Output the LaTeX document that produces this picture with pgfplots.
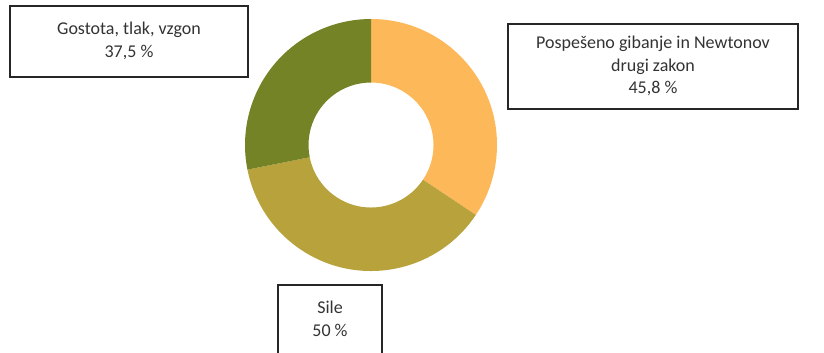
\documentclass[border=0pt]{standalone}
\usepackage{pgfplots}
\pgfplotsset{compat=1.18}
\usepackage{pgfplotstable}
\usepackage{fontspec}
\setmainfont{Carlito}
\definecolor{cA}{HTML}{FDB85A}
\definecolor{cB}{HTML}{B8A23C}
\definecolor{cC}{HTML}{738325}
\definecolor{txt}{HTML}{333333}
\pgfplotstableread{
val
45.8
50
37.5
}\piedata
\newcommand{\donutwedge}[3]{%
  \fill[#3] (axis cs:371,145) ++(#1:126pt) arc[start angle=#1, end angle=#2, radius=126pt]
    -- ++(#2:-63.5pt) arc[start angle=#2, end angle=#1, radius=62.5pt] -- cycle;}
\begin{document}
\begin{tikzpicture}
\pgfplotstablegetelem{0}{val}\of\piedata \pgfmathsetmacro{\va}{\pgfplotsretval}
\pgfplotstablegetelem{1}{val}\of\piedata \pgfmathsetmacro{\vb}{\pgfplotsretval}
\pgfplotstablegetelem{2}{val}\of\piedata \pgfmathsetmacro{\vc}{\pgfplotsretval}
\pgfmathsetmacro{\tot}{\va+\vb+\vc}
\pgfmathsetmacro{\aA}{90}
\pgfmathsetmacro{\aB}{\aA-360*(\va/\tot)}
\pgfmathsetmacro{\aC}{\aB-360*(\vb/\tot)}
\pgfmathsetmacro{\aD}{\aC-360*(\vc/\tot)}
\begin{axis}[
  at={(0,0)}, anchor=north west,
  scale only axis, width=824pt, height=353pt,
  xmin=0, xmax=824, ymin=0, ymax=353, y dir=reverse,
  hide axis, clip=false,
]
\donutwedge{\aA}{\aB}{cA}
\donutwedge{\aB}{\aC}{cB}
\donutwedge{\aC}{\aD}{cC}
\draw[line width=1.2pt, black!85] (axis cs:10,6) rectangle (axis cs:248,77);
\draw[line width=1.2pt, black!85] (axis cs:508,24) rectangle (axis cs:798,109);
\draw[line width=1.2pt, black!85] (axis cs:278,353.5) -- (axis cs:278,285) -- (axis cs:382,285) -- (axis cs:382,353.5);
\node[align=center, text=txt, font=\fontsize{18}{22.5}\selectfont] at (axis cs:129,41) {Gostota, tlak, vzgon\\37,5 \%};
\node[align=center, text=txt, font=\fontsize{18}{22.5}\selectfont] at (axis cs:653,66) {Pospešeno gibanje in Newtonov\\drugi zakon\\45,8 \%};
\node[align=center, text=txt, font=\fontsize{18}{22.5}\selectfont] at (axis cs:330,319) {Sile\\50 \%};
\end{axis}
\pgfresetboundingbox
\useasboundingbox (0,0) rectangle (824pt,-353pt);
\end{tikzpicture}
\end{document}
